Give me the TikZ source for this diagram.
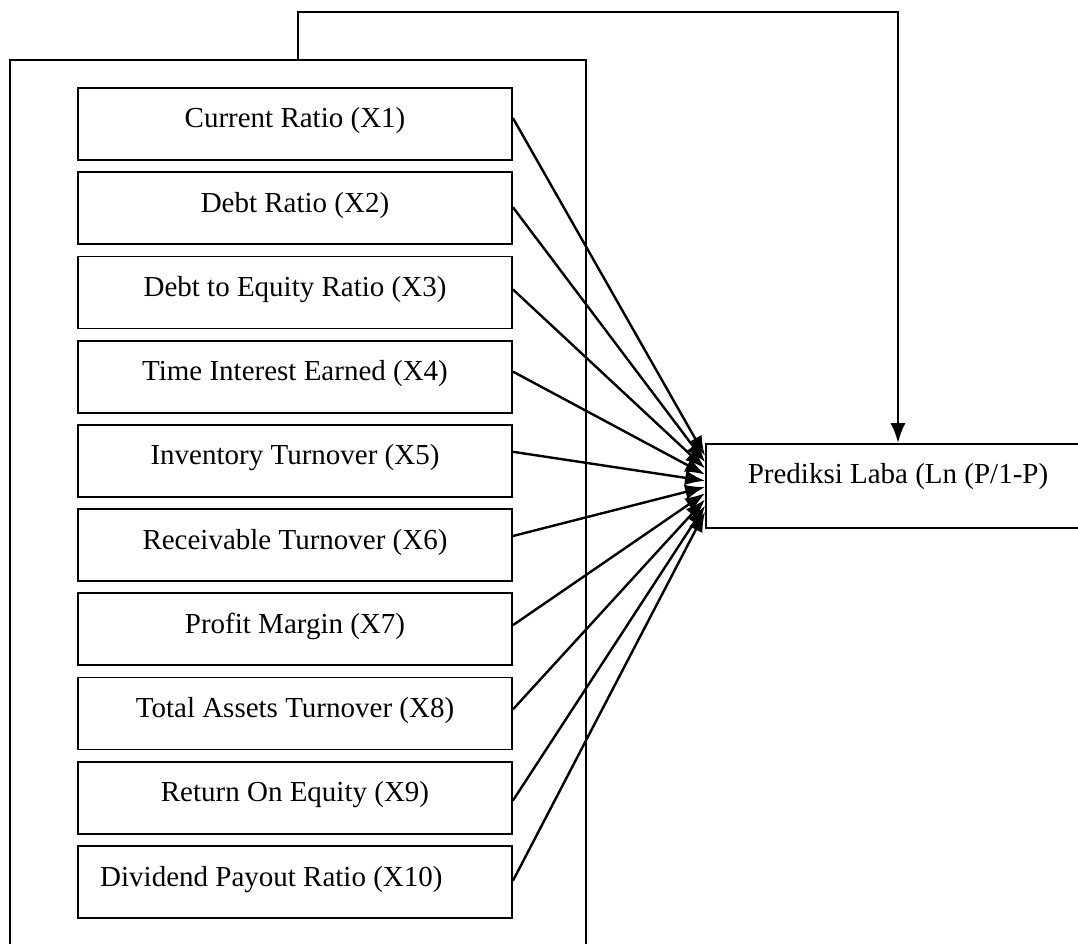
\documentclass[tikz,border=0pt]{standalone}
\usepackage{fontspec}
\setmainfont{Liberation Serif}
\usetikzlibrary{arrows.meta}
\begin{document}
\begin{tikzpicture}[x=1pt,y=-1pt,
  varbox/.style={draw, line width=1.8pt, minimum width=434pt, minimum height=72pt, inner sep=0pt},
  predbox/.style={draw, line width=1.8pt, minimum width=384pt, minimum height=84pt, inner sep=0pt},
  lbl/.style={font=\fontsize{29}{34}\selectfont, inner sep=0pt},
  conn/.style={line width=2.4pt, -{Latex[length=20pt,width=15pt]}},
  frameline/.style={line width=2pt}]
\useasboundingbox (0,0) rectangle (1078,944);
\clip (0,0) rectangle (1078,944);
% outer frame (open at the bottom, cut by the page edge)
\coordinate (fbl) at (10,960);
\coordinate (ftl) at (10,60);
\coordinate (ftr) at (586,60);
\coordinate (fbr) at (586,960);
\coordinate (otop) at (298,60);
\draw[frameline] (fbl) -- (ftl) -- (ftr) -- (fbr);
% target box
\node[predbox] (pred) at (898,486) {};
\node[lbl, anchor=base] (predt) at (898,483) {Prediksi Laba (Ln (P/1-P)};
% feedback line
\draw[conn] (otop) -- (298,12) -| (pred.north);
% variable boxes
\foreach \k/\txt/\soff in {1/Current Ratio (X1)/6,2/Debt Ratio (X2)/1,3/Debt to Equity Ratio (X3)/3,4/Time Interest Earned (X4)/5,5/Inventory Turnover (X5)/9,6/Receivable Turnover (X6)/9,7/Profit Margin (X7)/4,8/Total Assets Turnover (X8)/4,9/Return On Equity (X9)/-3,10/Dividend Payout Ratio (X10)/1}{
  \pgfmathsetmacro{\top}{88+84.2*(\k-1)}
  \node[varbox] (b\k) at (295,\top+36) {};
  \ifnum\k=10
    \node[lbl, anchor=base west] (t\k) at (100,\top+41) {\txt};
  \else
    \node[lbl, anchor=base] (t\k) at (295,\top+40) {\txt};
  \fi
  \pgfmathsetmacro{\eoff}{30-6.2*(\k-1)}
  \coordinate (s\k) at ([yshift=\soff pt]b\k.east);
  \coordinate (e\k) at ([yshift=\eoff pt]pred.west);
  \draw[conn] (s\k) -- (e\k);
}
\end{tikzpicture}
\end{document}
